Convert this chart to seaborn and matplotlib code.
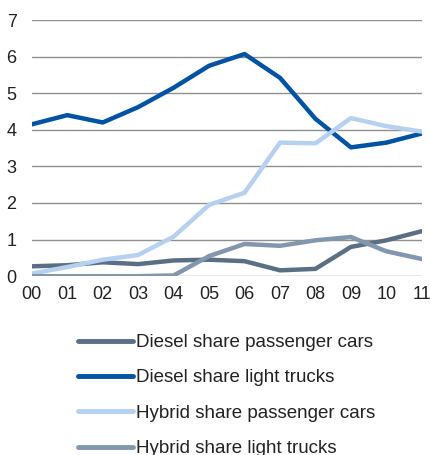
import pandas as pd
import matplotlib.pyplot as plt
import seaborn as sns

years = ["00", "01", "02", "03", "04", "05", "06", "07", "08", "09", "10", "11"]
diesel_cars = [0.27, 0.30, 0.38, 0.33, 0.43, 0.45, 0.41, 0.16, 0.20, 0.80, 0.98, 1.23]
diesel_trucks = [4.15, 4.40, 4.20, 4.62, 5.15, 5.75, 6.07, 5.42, 4.30, 3.52, 3.65, 3.90]
hybrid_cars = [0.07, 0.25, 0.45, 0.58, 1.08, 1.95, 2.28, 3.65, 3.63, 4.32, 4.10, 3.95]
hybrid_trucks = [0.0, 0.0, 0.0, 0.0, 0.02, 0.55, 0.88, 0.83, 0.98, 1.07, 0.68, 0.47]

series = {
    "Diesel share passenger cars": diesel_cars,
    "Diesel share light trucks": diesel_trucks,
    "Hybrid share passenger cars": hybrid_cars,
    "Hybrid share light trucks": hybrid_trucks,
}
colors = ["#5b6f84", "#0052a3", "#b5d1ef", "#8297ad"]

rows = []
for name, vals in series.items():
    for i, v in enumerate(vals):
        rows.append({"idx": i, "value": v, "series": name})
df = pd.DataFrame(rows)

sns.set_style("white")
plt.rcParams["font.family"] = ["Liberation Sans", "DejaVu Sans"]

fig = plt.figure(figsize=(4.3, 4.55), dpi=100)
ax = fig.add_axes([0.074, 0.393, 0.907, 0.563])
sns.lineplot(data=df, x="idx", y="value", hue="series", palette=colors,
             linewidth=3.2, ax=ax, legend=False)

ax.set_xlim(0, 11)
ax.set_ylim(0, 7)
ax.set_xticks(range(len(years)))
ax.set_xticklabels(years)
ax.set_yticks(range(8))
ax.tick_params(axis="both", labelsize=13, length=0, colors="#222222")
ax.tick_params(axis="x", pad=7)
ax.tick_params(axis="y", pad=11)
ax.grid(axis="y", color="#909090", linewidth=1)
ax.set_axisbelow(True)
for s in ax.spines.values():
    s.set_visible(False)
ax.set_xlabel("")
ax.set_ylabel("")

handles = [plt.Line2D([], [], color=c, linewidth=3.5) for c in colors]
fig.legend(handles, list(series.keys()), loc="upper left",
           bbox_to_anchor=(0.143, 0.303), frameon=False, fontsize=13.5,
           handlelength=2.9, handletextpad=0.2, labelspacing=0.97,
           labelcolor="#222222")

fig.savefig("out.png", dpi=100)
